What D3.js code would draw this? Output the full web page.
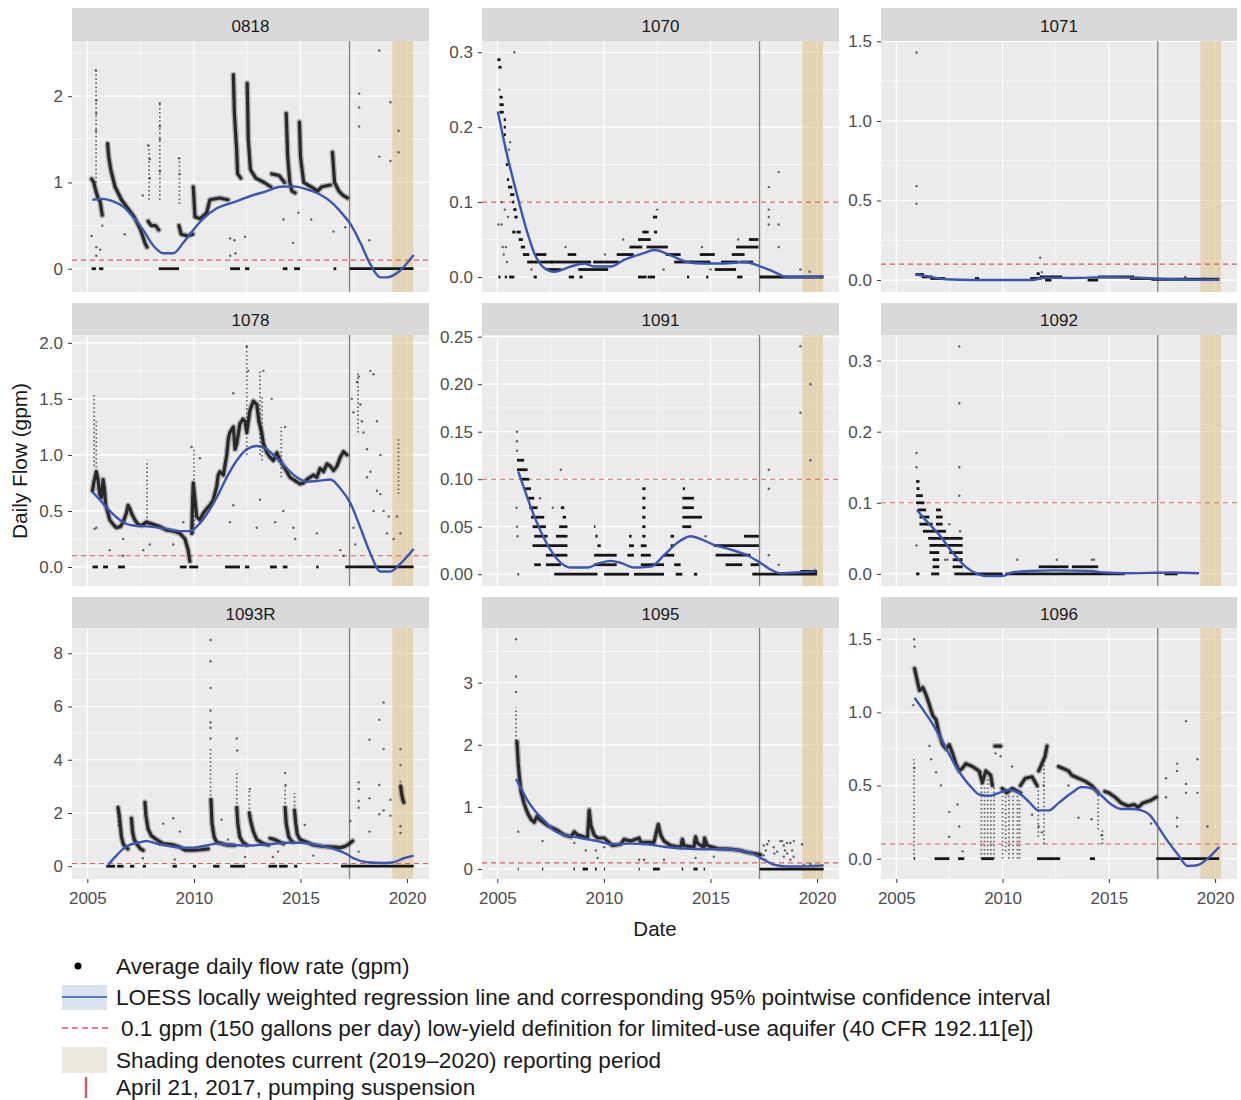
<!DOCTYPE html>
<html><head><meta charset="utf-8">
<script src="https://cdn.jsdelivr.net/npm/d3@7"></script>
<style>body{margin:0;background:#fff;} svg{display:block;font-family:"Liberation Sans",Arial,sans-serif;}</style>
</head><body><svg id="c" width="1241" height="1100"></svg>
<script>
// ---------------- DATA (decimal years, gpm) ----------------
const wells = ["0818","1070","1071","1078","1091","1092","1093R","1095","1096"];
const xTickLabels = ["2005","2010","2015","2020"];
const suspensionDate = 2017.30;       // April 21, 2017
const reportingPeriod = [2019.31, 2020.28];
const lowYield = 0.1;

// y tick labels per well
const yTicks_0818 = ["0","1","2"];
const yTicks_1070 = ["0.0","0.1","0.2","0.3"];
const yTicks_1071 = ["0.0","0.5","1.0","1.5"];
const yTicks_1078 = ["0.0","0.5","1.0","1.5","2.0"];
const yTicks_1091 = ["0.00","0.05","0.10","0.15","0.20","0.25"];
const yTicks_1092 = ["0.0","0.1","0.2","0.3"];
const yTicks_1093R = ["0","2","4","6","8"];
const yTicks_1095 = ["0","1","2","3"];
const yTicks_1096 = ["0.0","0.5","1.0","1.5"];

// y ranges per well
const yRange_0818 = [-0.27, 2.64];
const yRange_1070 = [-0.020, 0.315];
const yRange_1071 = [-0.075, 1.502];
const yRange_1078 = [-0.17, 2.07];
const yRange_1091 = [-0.0124, 0.2518];
const yRange_1092 = [-0.017, 0.336];
const yRange_1093R = [-0.48, 8.95];
const yRange_1095 = [-0.16, 3.88];
const yRange_1096 = [-0.139, 1.577];

// LOESS curves
const loess_0818 = [[2005.24,0.80],[2005.74,0.81],[2006.21,0.78],[2006.68,0.72],[2007.15,0.60],[2007.62,0.45],[2008.09,0.27],[2008.56,0.18],[2009.03,0.18],[2009.50,0.30],[2009.97,0.45],[2010.44,0.58],[2011.07,0.70],[2011.85,0.77],[2012.63,0.84],[2013.42,0.90],[2014.04,0.95],[2014.67,0.955],[2015.30,0.92],[2015.92,0.86],[2016.55,0.75],[2017.02,0.62],[2017.34,0.52],[2017.81,0.30],[2018.28,0.05],[2018.75,-0.10],[2019.06,-0.10],[2019.53,-0.05],[2020.31,0.16]];
const loess_1070 = [[2005.02,0.221],[2005.48,0.16],[2005.95,0.107],[2006.42,0.058],[2006.73,0.032],[2007.2,0.012],[2007.67,0.007],[2008.45,0.014],[2009.07,0.018],[2009.54,0.014],[2010.32,0.014],[2010.95,0.023],[2011.88,0.032],[2012.35,0.036],[2013.13,0.029],[2013.91,0.020],[2014.69,0.018],[2015.63,0.018],[2016.57,0.020],[2017.35,0.014],[2017.97,0.007],[2018.59,0.0],[2019.84,0.0],[2020.31,0.001]];
const loess_1071 = [[2005.9,0.035],[2006.4,0.025],[2007.34,0.005],[2008.58,0.0],[2011.39,0.0],[2012.01,0.015],[2013.26,0.013],[2014.81,0.018],[2016.37,0.015],[2017.93,0.005],[2020.19,0.002]];
const loess_1078 = [[2005.24,0.67],[2005.58,0.60],[2006.05,0.50],[2006.52,0.42],[2007.15,0.37],[2007.93,0.36],[2008.71,0.34],[2009.34,0.32],[2009.81,0.32],[2010.13,0.36],[2010.6,0.47],[2011.07,0.62],[2011.54,0.80],[2012.01,0.95],[2012.48,1.05],[2012.95,1.08],[2013.42,1.05],[2013.89,0.97],[2014.36,0.88],[2014.83,0.80],[2015.3,0.76],[2015.92,0.77],[2016.4,0.78],[2016.87,0.70],[2017.34,0.57],[2017.81,0.35],[2018.28,0.12],[2018.75,-0.04],[2019.22,-0.04],[2019.69,0.03],[2020.31,0.16]];
const loess_1091 = [[2005.98,0.108],[2006.26,0.09],[2006.58,0.07],[2007.04,0.045],[2007.51,0.025],[2007.98,0.012],[2008.45,0.007],[2009.23,0.007],[2009.70,0.011],[2010.32,0.014],[2010.79,0.012],[2011.41,0.007],[2012.2,0.008],[2012.82,0.020],[2013.44,0.033],[2014.07,0.040],[2014.54,0.037],[2015.16,0.031],[2015.94,0.026],[2016.72,0.020],[2017.27,0.013],[2017.81,0.005],[2018.28,0.001],[2019.22,0.002],[2019.84,0.003],[2019.92,0.005]];
const loess_1092 = [[2005.97,0.09],[2006.4,0.075],[2007.02,0.055],[2007.65,0.03],[2008.27,0.01],[2008.74,0.001],[2009.21,-0.003],[2009.98,-0.003],[2010.45,0.002],[2011.23,0.004],[2012.48,0.005],[2014.19,0.004],[2014.81,0.002],[2015.75,0.001],[2017.93,0.002],[2019.25,0.001]];
const loess_1093R = [[2005.97,0.05],[2006.36,0.4],[2006.68,0.65],[2006.99,0.8],[2007.46,0.9],[2007.77,0.95],[2008.24,0.85],[2008.71,0.78],[2009.5,0.7],[2009.97,0.7],[2010.6,0.78],[2011.07,0.85],[2011.85,0.8],[2012.63,0.78],[2013.42,0.82],[2014.36,0.88],[2014.98,0.88],[2015.77,0.8],[2016.55,0.65],[2017.18,0.45],[2017.49,0.3],[2018.12,0.15],[2018.9,0.12],[2019.37,0.15],[2019.84,0.3],[2020.31,0.4]];
const loess_1095 = [[2005.87,1.45],[2006.11,1.3],[2006.42,1.1],[2006.73,0.95],[2007.2,0.78],[2007.67,0.62],[2008.14,0.55],[2008.92,0.5],[2009.7,0.45],[2010.32,0.4],[2011.26,0.41],[2012.04,0.4],[2012.82,0.36],[2013.76,0.33],[2014.69,0.32],[2015.63,0.32],[2016.41,0.3],[2017.03,0.24],[2017.5,0.15],[2017.97,0.07],[2018.59,0.04],[2019.22,0.04],[2019.84,0.05],[2020.31,0.06]];
const loess_1096 = [[2005.86,1.1],[2006.25,1.02],[2006.71,0.92],[2007.18,0.8],[2007.65,0.67],[2008.12,0.56],[2008.58,0.48],[2008.89,0.44],[2009.36,0.43],[2009.83,0.45],[2010.3,0.47],[2010.76,0.45],[2011.23,0.39],[2011.7,0.33],[2012.17,0.33],[2012.63,0.38],[2013.26,0.45],[2013.72,0.49],[2014.19,0.48],[2014.66,0.43],[2015.12,0.37],[2015.59,0.34],[2016.06,0.34],[2016.53,0.33],[2016.92,0.3],[2017.31,0.22],[2017.77,0.12],[2018.24,0.03],[2018.71,-0.05],[2019.17,-0.045],[2019.64,0.0],[2020.19,0.08]];

// dense daily-record traces (read along the dark bands)
const trace_0818 = [
 [[2005.2,1.04],[2005.3,1.0],[2005.4,0.9],[2005.5,0.82],[2005.6,0.78],[2005.7,0.62]],
 [[2005.95,1.45],[2006.0,1.3],[2006.1,1.15],[2006.3,0.95],[2006.6,0.8],[2006.9,0.7],[2007.2,0.6],[2007.5,0.45],[2007.7,0.3],[2007.8,0.25]],
 [[2007.85,0.55],[2008.0,0.5],[2008.2,0.5],[2008.35,0.45]],
 [[2009.3,0.5],[2009.4,0.4],[2009.7,0.38],[2009.95,0.4]],
 [[2009.97,0.95],[2010.05,0.6],[2010.3,0.58],[2010.6,0.65],[2010.75,0.8],[2011.2,0.82],[2011.6,0.8]],
 [[2011.85,2.25],[2011.9,1.8],[2012.0,1.4],[2012.05,1.1],[2012.2,1.05]],
 [[2012.5,2.15],[2012.55,1.5],[2012.65,1.15],[2012.9,1.05],[2013.3,1.0],[2013.6,0.95]],
 [[2013.65,1.1],[2014.0,1.08],[2014.25,1.0]],
 [[2014.33,1.8],[2014.4,1.3],[2014.5,1.0],[2014.6,0.9],[2014.75,0.88]],
 [[2014.95,1.7],[2015.0,1.3],[2015.15,1.0],[2015.5,0.95],[2015.8,0.9],[2016.0,0.95],[2016.4,0.97]],
 [[2016.5,1.35],[2016.6,1.0],[2016.8,0.9],[2017.0,0.85],[2017.2,0.82]]
];
const trace_1070 = [];
const trace_1071 = [];
const trace_1078 = [
 [[2005.24,0.68],[2005.3,0.75],[2005.42,0.85],[2005.5,0.78],[2005.58,0.65],[2005.66,0.62],[2005.74,0.78],[2005.8,0.7],[2005.86,0.55],[2005.97,0.48],[2006.05,0.42],[2006.21,0.38],[2006.36,0.35],[2006.55,0.36],[2006.68,0.4],[2006.83,0.48],[2006.91,0.55],[2007.0,0.52],[2007.07,0.48],[2007.23,0.42],[2007.38,0.38],[2007.54,0.37],[2007.77,0.4],[2008.09,0.38],[2008.4,0.36],[2008.71,0.33],[2009.03,0.32],[2009.34,0.3],[2009.58,0.25],[2009.73,0.15],[2009.81,0.05]],
 [[2009.9,0.3],[2009.94,0.6],[2009.97,0.75],[2010.05,0.6],[2010.13,0.45],[2010.28,0.42],[2010.44,0.48],[2010.6,0.52],[2010.75,0.55],[2010.91,0.6],[2011.07,0.72],[2011.14,0.82],[2011.22,0.85],[2011.38,0.82],[2011.54,1.0],[2011.62,1.15],[2011.69,1.2],[2011.85,1.25],[2011.93,1.05],[2012.01,1.1],[2012.16,1.28],[2012.3,1.32],[2012.4,1.3],[2012.48,1.2],[2012.63,1.4],[2012.79,1.48],[2012.95,1.45],[2013.05,1.3],[2013.18,1.2],[2013.26,1.1],[2013.42,1.02],[2013.57,0.98],[2013.73,0.95],[2013.89,1.02],[2014.04,0.95],[2014.2,0.9],[2014.36,0.85],[2014.51,0.8],[2014.67,0.78],[2014.83,0.76],[2014.98,0.74],[2015.14,0.75],[2015.3,0.78],[2015.45,0.8],[2015.61,0.82],[2015.77,0.8],[2015.92,0.88],[2016.08,0.85],[2016.24,0.92],[2016.4,0.9],[2016.55,0.86],[2016.71,0.9],[2016.87,0.98],[2017.02,1.03],[2017.18,1.0]]
];
const trace_1091 = [];
const trace_1092 = [];
const trace_1093R = [
 [[2006.44,2.2],[2006.5,1.9],[2006.55,1.5],[2006.6,1.1],[2006.68,0.85],[2006.76,0.75],[2006.9,0.65]],
 [[2007.07,1.8],[2007.12,1.3],[2007.2,1.0],[2007.35,0.8],[2007.5,0.65],[2007.62,0.6]],
 [[2007.7,2.4],[2007.75,1.9],[2007.85,1.4],[2008.0,1.15],[2008.24,1.0],[2008.56,0.85],[2009.03,0.8],[2009.34,0.72],[2009.6,0.6],[2009.97,0.6],[2010.3,0.62],[2010.67,0.65]],
 [[2010.8,2.5],[2010.85,1.6],[2010.95,1.1],[2011.07,0.9],[2011.3,0.85],[2011.54,0.8],[2011.9,0.78]],
 [[2012.01,2.2],[2012.06,1.6],[2012.15,1.1],[2012.3,0.9],[2012.48,0.8]],
 [[2012.6,2.0],[2012.66,1.7],[2012.79,1.3],[2012.95,1.0],[2013.26,0.85],[2013.5,0.8]],
 [[2013.57,1.05],[2013.8,1.0],[2014.04,0.9],[2014.2,0.85]],
 [[2014.28,2.2],[2014.33,1.6],[2014.45,1.1],[2014.6,0.92],[2014.67,0.9]],
 [[2014.72,2.1],[2014.78,1.6],[2014.85,1.2],[2014.98,1.0],[2015.3,0.9],[2015.6,0.8],[2016.0,0.75],[2016.55,0.72],[2016.87,0.7],[2017.1,0.75],[2017.3,0.85],[2017.45,0.95]],
 [[2019.7,3.0],[2019.75,2.7],[2019.8,2.5],[2019.85,2.4]]
];
const trace_1095 = [
 [[2005.92,2.05],[2005.98,1.7],[2006.03,1.5],[2006.11,1.25],[2006.26,1.05],[2006.42,0.9],[2006.58,0.8],[2006.73,0.75],[2006.86,0.85],[2006.97,0.8],[2007.36,0.7],[2007.83,0.62],[2008.14,0.55],[2008.45,0.52],[2008.61,0.6],[2008.76,0.55],[2009.23,0.5],[2009.31,0.95],[2009.39,0.7],[2009.54,0.55],[2009.7,0.5],[2010.01,0.5],[2010.17,0.45],[2010.4,0.38],[2010.79,0.4],[2010.95,0.48],[2011.26,0.45],[2011.65,0.5],[2011.73,0.43],[2012.35,0.43],[2012.55,0.72],[2012.66,0.55],[2012.82,0.45],[2013.13,0.38],[2013.6,0.35],[2013.68,0.48],[2013.76,0.38],[2014.22,0.35],[2014.3,0.52],[2014.38,0.42],[2014.69,0.35],[2014.72,0.5],[2014.85,0.38],[2015.32,0.33],[2015.94,0.32],[2016.41,0.3],[2016.72,0.27],[2017.19,0.24],[2017.35,0.23]]
];
const trace_1096 = [
 [[2005.86,1.3],[2006.01,1.2],[2006.09,1.15],[2006.25,1.17],[2006.4,1.12],[2006.56,1.05],[2006.71,0.98],[2006.87,0.95],[2007.02,0.85],[2007.18,0.78],[2007.34,0.75],[2007.49,0.78],[2007.65,0.72],[2007.8,0.65],[2007.96,0.6],[2008.12,0.62],[2008.27,0.65],[2008.58,0.63],[2008.89,0.6],[2009.05,0.52],[2009.21,0.6],[2009.44,0.57],[2009.52,0.5]],
 [[2009.64,0.77],[2009.91,0.77]],
 [[2009.98,0.48],[2010.2,0.45],[2010.45,0.48],[2010.84,0.45]],
 [[2010.84,0.5],[2011.07,0.55],[2011.39,0.56],[2011.62,0.5]],
 [[2011.7,0.6],[2011.85,0.65],[2012.0,0.7],[2012.09,0.77]],
 [[2012.63,0.63],[2012.8,0.62],[2013.1,0.6],[2013.26,0.57],[2013.57,0.55],[2013.88,0.53],[2014.19,0.5],[2014.5,0.45]],
 [[2014.81,0.46],[2015.0,0.45],[2015.3,0.42],[2015.59,0.38],[2015.9,0.36],[2016.2,0.37],[2016.37,0.35],[2016.6,0.38],[2016.99,0.4],[2017.23,0.42]]
];

// runs of identical daily values: [start, end, value]
const runs_0818 = [[2005.2,2005.4,0],[2005.55,2005.75,0],[2008.35,2009.3,0],[2011.7,2012.16,0],[2012.4,2012.6,0],[2014.17,2014.39,0],[2014.7,2014.98,0],[2016.55,2016.68,0],[2017.3,2020.3,0]];
const runs_1070 = [[2005.0,2005.15,0.29],[2005.05,2005.2,0.28],[2005.1,2005.25,0.24],[2005.1,2005.3,0.23],[2005.1,2005.3,0.22],[2005.3,2005.4,0.21],[2005.3,2005.4,0.2],[2005.3,2005.4,0.19],[2005.35,2005.45,0.17],[2005.4,2005.5,0.15],[2005.45,2005.55,0.13],[2005.5,2005.7,0.12],[2005.6,2005.8,0.11],[2005.7,2005.8,0.1],[2005.75,2005.9,0.09],[2005.8,2005.95,0.08],[2005.7,2005.85,0.06],[2005.9,2006.1,0.06],[2006.0,2006.2,0.05],[2006.1,2006.3,0.04],[2006.2,2006.5,0.03],[2006.4,2007.0,0.02],[2006.8,2007.3,0.03],[2007.0,2007.6,0.02],[2007.3,2008.0,0.01],[2007.5,2008.6,0.02],[2008.3,2008.7,0.03],[2008.6,2009.4,0.02],[2008.8,2010.2,0.01],[2009.5,2010.0,0.02],[2010.0,2010.7,0.02],[2010.6,2011.4,0.03],[2011.2,2011.8,0.04],[2011.6,2012.2,0.05],[2011.8,2012.1,0.06],[2012.3,2012.5,0.08],[2012.35,2012.5,0.06],[2012.0,2013.0,0.04],[2012.9,2013.6,0.03],[2013.3,2014.2,0.02],[2014.0,2015.0,0.02],[2014.5,2015.2,0.03],[2015.2,2016.2,0.01],[2015.5,2016.3,0.02],[2016.0,2016.6,0.03],[2016.2,2017.25,0.04],[2016.8,2017.25,0.05],[2016.4,2017.0,0.02],
 [2005.05,2005.15,0],[2005.35,2005.45,0],[2005.55,2005.8,0],[2006.7,2006.85,0],[2008.35,2008.6,0],[2008.85,2009.0,0],[2011.6,2012.0,0],[2012.05,2012.4,0],[2013.9,2014.0,0],[2014.8,2014.9,0],[2016.25,2016.5,0],[2017.3,2020.3,0]];
const runs_1071 = [[2005.9,2006.3,0.035],[2006.2,2006.7,0.02],[2006.6,2007.3,0.01],[2008.7,2008.9,0.01],[2011.3,2011.8,0.01],[2011.6,2011.75,0.04],[2011.75,2012.8,0.02],[2012.0,2012.3,0.0],[2014.0,2014.5,0.0],[2014.5,2016.2,0.02],[2016.0,2017.0,0.01],[2017.0,2020.2,0.005]];
const runs_1078 = [[2005.24,2005.5,0],[2005.74,2005.97,0],[2006.44,2006.76,0],[2009.34,2009.66,0],[2009.78,2010.2,0],[2011.46,2012.16,0],[2012.4,2012.6,0],[2013.57,2013.89,0],[2014.17,2014.39,0],[2015.74,2015.85,0],[2017.1,2020.31,0]];
const runs_1091 = [[2005.92,2006.26,0.12],[2005.92,2006.42,0.11],[2006.11,2006.5,0.10],[2006.26,2006.58,0.09],[2006.42,2006.73,0.08],[2006.5,2006.89,0.07],[2007.98,2008.14,0.07],[2006.58,2007.2,0.06],[2008.06,2008.22,0.06],[2006.65,2007.28,0.05],[2007.9,2008.29,0.05],[2009.54,2009.6,0.05],[2006.73,2007.36,0.04],[2007.75,2008.29,0.04],[2009.6,2009.7,0.04],[2011.18,2011.3,0.04],[2013.13,2013.29,0.04],[2016.57,2017.27,0.04],[2006.65,2008.29,0.03],[2009.7,2009.85,0.03],[2011.18,2011.41,0.03],[2011.73,2012.0,0.03],[2013.13,2013.3,0.03],[2015.16,2017.27,0.03],[2007.28,2008.29,0.02],[2009.54,2010.6,0.02],[2011.1,2011.41,0.02],[2011.73,2012.2,0.02],[2012.82,2013.3,0.02],[2015.24,2016.88,0.02],[2006.73,2007.04,0.01],[2007.28,2007.98,0.01],[2009.54,2010.6,0.01],[2011.73,2012.82,0.01],[2013.3,2013.6,0.01],[2015.71,2016.49,0.01],[2016.88,2017.27,0.01],[2007.67,2009.7,0],[2010.01,2011.18,0],[2011.41,2012.82,0],[2013.37,2013.68,0],[2014.22,2014.38,0],[2016.96,2020.0,0],[2011.8,2011.95,0.09],[2011.8,2011.95,0.08],[2011.8,2011.95,0.07],[2011.8,2011.95,0.06],[2011.8,2011.95,0.05],[2011.8,2011.95,0.04],[2013.7,2013.8,0.09],[2013.68,2014.22,0.08],[2013.68,2014.22,0.07],[2013.68,2014.6,0.06],[2013.68,2014.1,0.05],[2019.22,2020.0,0.003]];
const runs_1092 = [[2005.93,2006.09,0.13],[2005.95,2006.09,0.12],[2005.93,2006.25,0.11],[2005.93,2006.32,0.10],[2006.0,2006.4,0.09],[2006.87,2007.1,0.09],[2006.09,2006.56,0.08],[2006.87,2007.18,0.08],[2006.09,2006.71,0.07],[2006.87,2007.18,0.07],[2006.25,2007.34,0.06],[2006.5,2007.49,0.05],[2007.49,2008.12,0.05],[2006.56,2008.12,0.04],[2006.56,2007.02,0.03],[2007.49,2008.12,0.03],[2006.71,2007.02,0.02],[2007.65,2008.12,0.02],[2006.71,2007.02,0.01],[2007.65,2008.12,0.01],[2005.93,2006.09,0],[2006.64,2007.02,0],[2007.73,2008.89,0],[2008.89,2010.0,0],[2010.14,2015.75,0],[2017.62,2018.24,0],[2011.7,2013.1,0.01],[2013.26,2014.5,0.01]];
const runs_1093R = [[2005.89,2006.3,0],[2006.4,2006.7,0],[2007.0,2007.2,0],[2007.6,2007.75,0],[2009.0,2009.2,0],[2009.95,2010.1,0],[2010.9,2011.2,0],[2011.7,2012.4,0],[2013.5,2013.9,0],[2014.0,2014.4,0],[2014.7,2014.85,0],[2016.9,2020.31,0]];
const runs_1095 = [[2005.96,2006.0,0],[2007.1,2007.15,0],[2008.58,2008.64,0],[2009.0,2009.25,0],[2009.58,2009.66,0],[2010.0,2010.05,0],[2011.63,2011.68,0],[2012.3,2012.62,0],[2013.65,2013.72,0],[2014.2,2014.4,0],[2014.68,2014.74,0],[2017.3,2020.31,0]];
const runs_1096 = [[2005.83,2005.88,0],[2006.8,2007.5,0],[2007.9,2008.2,0],[2009.0,2009.6,0],[2011.62,2012.71,0],[2014.11,2014.35,0],[2017.23,2020.19,0]];

// vertical columns of scattered daily values: [date, low, high]
const spikes_0818 = [[2005.41,1.0,2.3],[2008.4,0.8,1.92],[2007.9,0.8,1.43],[2009.32,0.75,1.28]];
const spikes_1070 = [];
const spikes_1071 = [];
const spikes_1078 = [[2005.32,0.9,1.55],[2005.42,0.85,1.3],[2007.8,0.4,0.95],[2010.0,0.3,1.07],[2012.48,1.0,1.97],[2013.1,1.0,1.75],[2013.2,0.95,1.52],[2014.1,0.8,1.25],[2017.7,1.2,1.75],[2019.6,0.65,1.15]];
const spikes_1091 = [];
const spikes_1092 = [];
const spikes_1093R = [[2010.78,2.5,4.4],[2012.01,2.2,3.6],[2012.6,2.0,2.9],[2014.28,2.2,3.0],[2014.72,2.1,2.75],[2006.45,1.5,2.3],[2019.69,3.0,3.3]];
const spikes_1095 = [[2005.88,2.0,2.6]];
const spikes_1096 = [[2005.83,0.0,0.68],[2009.0,0.0,0.6],[2009.15,0.0,0.5],[2009.3,0.0,0.55],[2009.45,0.0,0.45],[2009.6,0.0,0.5],[2010.0,0.0,0.5],[2010.15,0.05,0.48],[2010.3,0.0,0.45],[2010.5,0.0,0.45],[2010.7,0.0,0.45],[2010.8,0.0,0.4],[2011.68,0.15,0.5],[2011.95,0.1,0.7],[2014.5,0.2,0.45],[2014.7,0.1,0.2]];

// isolated daily values
const pts_0818 = [[2005.4,2.3],[2005.42,1.95],[2005.42,1.8],[2005.41,1.6],[2005.2,0.38],[2005.42,0.25],[2005.42,0.15],[2005.6,0.22],[2005.7,0.5],[2006.75,0.4],[2007.6,0.85],[2007.85,1.43],[2007.93,1.27],[2007.93,1.05],[2008.4,1.92],[2008.4,1.65],[2008.4,1.5],[2008.4,1.13],[2009.3,1.28],[2009.33,1.1],[2011.7,0.35],[2011.7,0.15],[2011.9,0.33],[2011.95,0.18],[2012.4,0.37],[2014.2,0.57],[2014.65,0.3],[2014.9,0.65],[2015.5,0.57],[2016.55,0.43],[2017.1,0.48],[2017.75,2.03],[2017.75,1.87],[2017.75,1.65],[2018.23,0.33],[2018.7,2.53],[2018.7,1.3],[2019.22,1.93],[2019.22,1.25],[2019.6,1.6],[2019.6,1.35]];
const pts_1070 = [[2005.8,0.3],[2005.1,0.25],[2005.05,0.07],[2005.2,0.07],[2005.25,0.04],[2005.3,0.03],[2005.4,0.04],[2005.45,0.02],[2005.55,0.17],[2005.6,0.18],[2005.5,0.08],[2005.35,0.09],[2005.2,0.1],[2006.6,0.01],[2008.2,0.04],[2010.05,0.03],[2010.9,0.05],[2012.5,0.09],[2012.8,0.01],[2014.6,0.04],[2015.0,0.01],[2016.3,0.05],[2017.74,0.12],[2017.74,0.09],[2017.74,0.08],[2017.74,0.07],[2018.2,0.14],[2018.2,0.07],[2018.2,0.04],[2019.22,0.01],[2019.65,0.007]];
const pts_1071 = [[2005.95,1.43],[2005.95,0.59],[2005.95,0.48],[2011.77,0.14],[2011.85,0.05],[2018.6,0.02],[2019.5,0.01]];
const pts_1078 = [[2012.48,1.97],[2012.55,1.75],[2011.85,1.55],[2013.26,1.75],[2013.65,1.5],[2014.28,1.25],[2010.28,0.97],[2009.89,1.07],[2007.93,0.2],[2007.62,0.15],[2006.68,0.25],[2006.05,0.15],[2006.68,0.1],[2009.03,0.2],[2009.5,0.4],[2011.69,0.4],[2011.85,0.55],[2012.95,0.35],[2013.1,0.6],[2013.81,0.4],[2014.2,0.5],[2014.67,0.35],[2014.75,0.25],[2015.77,0.3],[2005.42,0.35],[2005.34,0.34],[2017.41,1.5],[2017.49,1.38],[2017.65,1.65],[2017.73,1.7],[2017.81,1.45],[2017.88,1.3],[2017.96,1.2],[2018.12,1.05],[2018.28,1.75],[2018.43,1.72],[2018.59,1.3],[2018.75,1.0],[2018.12,0.8],[2018.43,0.5],[2018.75,0.65],[2019.06,0.3],[2019.14,0.45],[2017.34,0.55],[2017.49,0.35],[2017.57,0.2],[2016.87,0.15],[2017.02,0.1],[2018.28,0.85],[2018.59,0.68],[2018.9,0.5],[2019.37,0.25],[2019.53,0.45],[2019.69,0.3]];
const pts_1091 = [[2005.92,0.15],[2005.92,0.14],[2005.92,0.13],[2005.9,0.07],[2005.92,0.05],[2005.95,0.04],[2005.98,0.0],[2007.0,0.08],[2007.98,0.11],[2007.6,0.07],[2014.77,0.04],[2017.74,0.11],[2017.74,0.09],[2017.74,0.02],[2018.2,0.01],[2019.22,0.24],[2019.69,0.2],[2019.22,0.17],[2019.69,0.12]];
const pts_1092 = [[2005.95,0.17],[2005.95,0.15],[2005.95,0.04],[2007.96,0.32],[2007.96,0.24],[2007.96,0.15],[2007.96,0.11],[2008.0,0.06],[2007.5,0.07],[2010.69,0.02],[2012.55,0.02],[2014.2,0.02],[2014.3,0.02],[2007.3,0.02],[2007.4,0.02]];
const pts_1093R = [[2010.78,8.5],[2010.78,7.7],[2010.78,6.7],[2010.78,5.85],[2010.78,5.4],[2010.78,5.2],[2010.78,4.8],[2012.01,4.8],[2012.03,4.35],[2014.28,3.5],[2014.3,3.05],[2012.62,2.9],[2008.56,1.6],[2009.03,1.8],[2009.34,1.3],[2011.3,1.75],[2011.6,1.0],[2012.4,0.35],[2013.7,0.35],[2013.95,0.55],[2015.2,1.55],[2015.6,0.4],[2008.4,0.8],[2007.6,0.3],[2009.1,0.25],[2017.34,1.7],[2017.73,3.15],[2017.73,2.9],[2017.73,2.45],[2017.73,2.2],[2017.73,0.55],[2018.24,4.75],[2018.24,2.55],[2018.24,1.3],[2018.7,5.5],[2018.7,3.05],[2018.7,1.95],[2018.9,6.15],[2018.9,4.4],[2018.9,2.1],[2019.22,2.5],[2019.22,1.9],[2019.69,4.4],[2019.69,3.8],[2019.69,1.5],[2019.69,1.25]];
const pts_1095 = [[2005.88,3.7],[2005.88,3.1],[2005.88,2.85],[2005.98,0.6],[2007.12,0.45],[2008.61,0.42],[2009.15,0.3],[2009.62,0.3],[2009.7,0.18],[2010.01,0.35],[2011.65,0.15],[2011.88,0.15],[2012.82,0.15],[2014.3,0.18],[2015.16,0.2],[2017.5,0.38],[2017.66,0.4],[2017.74,0.45],[2017.97,0.35],[2018.13,0.28],[2018.28,0.45],[2018.36,0.45],[2018.44,0.38],[2018.59,0.42],[2018.75,0.42],[2018.83,0.3],[2018.91,0.45],[2019.3,0.4],[2017.5,0.22],[2017.58,0.15],[2018.44,0.2],[2018.75,0.15],[2019.37,0.07],[2019.69,0.08],[2018.28,0.05],[2017.6,0.3],[2018.0,0.25],[2018.5,0.3],[2018.6,0.25],[2018.9,0.2]];
const pts_1096 = [[2005.86,1.45],[2005.84,1.5],[2005.8,1.05],[2005.85,0.62],[2006.56,0.77],[2006.64,0.68],[2006.87,0.59],[2007.1,0.5],[2007.49,0.32],[2007.49,0.15],[2007.88,0.37],[2007.96,0.22],[2008.12,0.05],[2009.67,0.72],[2009.91,0.7],[2010.45,0.63],[2011.39,0.3],[2011.7,0.22],[2011.85,0.18],[2011.93,0.5],[2013.1,0.5],[2013.57,0.28],[2014.19,0.27],[2014.66,0.16],[2016.99,0.24],[2017.69,0.55],[2017.69,0.42],[2018.21,0.65],[2018.21,0.6],[2018.21,0.28],[2018.21,0.22],[2018.63,0.94],[2018.63,0.51],[2018.63,0.45],[2019.17,0.68],[2019.17,0.45],[2019.64,0.22]];

const legendLabels = ["Average daily flow rate (gpm)","LOESS locally weighted regression line and corresponding 95% pointwise confidence interval","0.1 gpm (150 gallons per day) low-yield definition for limited-use aquifer (40 CFR 192.11[e])","Shading denotes current (2019\u20132020) reporting period","April 21, 2017, pumping suspension"];

// ---------------- ASSEMBLY ----------------
const panels = [
 {id:"0818", yr:yRange_0818, yt:yTicks_0818, lo:loess_0818, tr:trace_0818, ru:runs_0818, sp:spikes_0818, pt:pts_0818},
 {id:"1070", yr:yRange_1070, yt:yTicks_1070, lo:loess_1070, tr:trace_1070, ru:runs_1070, sp:spikes_1070, pt:pts_1070},
 {id:"1071", yr:yRange_1071, yt:yTicks_1071, lo:loess_1071, tr:trace_1071, ru:runs_1071, sp:spikes_1071, pt:pts_1071},
 {id:"1078", yr:yRange_1078, yt:yTicks_1078, lo:loess_1078, tr:trace_1078, ru:runs_1078, sp:spikes_1078, pt:pts_1078},
 {id:"1091", yr:yRange_1091, yt:yTicks_1091, lo:loess_1091, tr:trace_1091, ru:runs_1091, sp:spikes_1091, pt:pts_1091},
 {id:"1092", yr:yRange_1092, yt:yTicks_1092, lo:loess_1092, tr:trace_1092, ru:runs_1092, sp:spikes_1092, pt:pts_1092},
 {id:"1093R", yr:yRange_1093R, yt:yTicks_1093R, lo:loess_1093R, tr:trace_1093R, ru:runs_1093R, sp:spikes_1093R, pt:pts_1093R},
 {id:"1095", yr:yRange_1095, yt:yTicks_1095, lo:loess_1095, tr:trace_1095, ru:runs_1095, sp:spikes_1095, pt:pts_1095},
 {id:"1096", yr:yRange_1096, yt:yTicks_1096, lo:loess_1096, tr:trace_1096, ru:runs_1096, sp:spikes_1096, pt:pts_1096}
];

const svg = d3.select("#c");
const colX = [72, 482, 881], colW = [357, 357, 356];
const rowY = [41, 335, 628], stripH = [33, 32, 31], plotH = 251;
const xDomain = [2004.28, 2021.03];
const xTicks = xTickLabels.map(Number);
const FONT = "Liberation Sans, Arial, sans-serif";

panels.forEach((p, i) => {
  const c = i % 3, r = Math.floor(i / 3);
  const x0 = colX[c], y0 = rowY[r], w = colW[c], h = plotH;
  const x = d3.scaleLinear().domain(xDomain).range([x0, x0 + w]);
  const y = d3.scaleLinear().domain(p.yr).range([y0 + h, y0]);
  const g = svg.append("g").attr("class", "panel");
  const clipId = "clip" + i;
  svg.append("clipPath").attr("id", clipId).append("rect").attr("x", x0).attr("y", y0).attr("width", w).attr("height", h);

  // strip
  g.append("rect").attr("x", x0).attr("y", y0 - stripH[r]).attr("width", w).attr("height", stripH[r]).attr("fill", "#d9d9d9");
  g.append("text").attr("x", x0 + w / 2).attr("y", y0 - stripH[r] / 2 + 1.5).attr("dy", "0.35em")
    .attr("text-anchor", "middle").attr("font-size", 17).attr("fill", "#1a1a1a").text(p.id);

  // background
  g.append("rect").attr("x", x0).attr("y", y0).attr("width", w).attr("height", h).attr("fill", "#ebebeb");
  const pg = g.append("g").attr("clip-path", `url(#${clipId})`);

  // grid
  const yv = p.yt.map(Number);
  const step = yv[1] - yv[0];
  const yMinor = [];
  for (let k = -1; k < yv.length; k++) { const v = yv[0] + (k + 0.5) * step; if (v > p.yr[0] && v < p.yr[1]) yMinor.push(v); }
  const xMinor = [];
  for (let k = -1; k < xTicks.length; k++) { const v = xTicks[0] + (k + 0.5) * 5; if (v > xDomain[0] && v < xDomain[1]) xMinor.push(v); }
  pg.selectAll(".ymin").data(yMinor).join("line").attr("x1", x0).attr("x2", x0 + w).attr("y1", d => y(d)).attr("y2", d => y(d)).attr("stroke", "#fff").attr("stroke-width", 0.6);
  pg.selectAll(".xmin").data(xMinor).join("line").attr("y1", y0).attr("y2", y0 + h).attr("x1", d => x(d)).attr("x2", d => x(d)).attr("stroke", "#fff").attr("stroke-width", 0.6);
  pg.selectAll(".ymaj").data(yv).join("line").attr("x1", x0).attr("x2", x0 + w).attr("y1", d => y(d)).attr("y2", d => y(d)).attr("stroke", "#fff").attr("stroke-width", 1.2);
  pg.selectAll(".xmaj").data(xTicks).join("line").attr("y1", y0).attr("y2", y0 + h).attr("x1", d => x(d)).attr("x2", d => x(d)).attr("stroke", "#fff").attr("stroke-width", 1.2);

  // reporting period shading
  pg.append("rect").attr("x", x(reportingPeriod[0])).attr("y", y0).attr("width", x(reportingPeriod[1]) - x(reportingPeriod[0])).attr("height", h)
    .attr("fill", "#dcc18a").attr("opacity", 0.55);
  // suspension line
  pg.append("line").attr("x1", x(suspensionDate)).attr("x2", x(suspensionDate)).attr("y1", y0).attr("y2", y0 + h).attr("stroke", "#8a8070").attr("stroke-width", 1.3);
  // low-yield threshold
  pg.append("line").attr("x1", x0).attr("x2", x0 + w).attr("y1", y(lowYield)).attr("y2", y(lowYield)).attr("stroke", "#d9605e").attr("stroke-width", 1.1).attr("stroke-dasharray", "5,4");

  // runs
  pg.selectAll(".run").data(p.ru).join("line").attr("x1", d => x(d[0])).attr("x2", d => x(d[1])).attr("y1", d => y(d[2])).attr("y2", d => y(d[2]))
    .attr("stroke", "#151515").attr("stroke-width", 2.8);
  // spikes (dotted columns)
  pg.selectAll(".spk").data(p.sp).join("line").attr("x1", d => x(d[0])).attr("x2", d => x(d[0])).attr("y1", d => y(d[1])).attr("y2", d => y(d[2]))
    .attr("stroke", "#333").attr("stroke-width", 1.7).attr("stroke-dasharray", "1.5,2.6").attr("opacity", 0.75);
  // traces: soft halo + core band
  const line = d3.line().x(d => x(d[0])).y(d => y(d[1]));
  pg.selectAll(".trh").data(p.tr).join("path").attr("d", line).attr("fill", "none").attr("stroke", "#2a2a2a")
    .attr("stroke-width", 6).attr("stroke-linejoin", "round").attr("stroke-linecap", "round").attr("opacity", 0.3);
  pg.selectAll(".trc").data(p.tr).join("path").attr("d", line).attr("fill", "none").attr("stroke", "#1a1a1a")
    .attr("stroke-width", 3.2).attr("stroke-linejoin", "round").attr("stroke-linecap", "round").attr("opacity", 0.9);
  // points
  pg.selectAll(".pt").data(p.pt).join("circle").attr("cx", d => x(d[0])).attr("cy", d => y(d[1])).attr("r", 1.2).attr("fill", "#333").attr("opacity", 0.75);
  // loess
  const sm = d3.line().x(d => x(d[0])).y(d => y(d[1])).curve(d3.curveMonotoneX);
  pg.append("path").attr("d", sm(p.lo)).attr("fill", "none").attr("stroke", "#3b55b3").attr("stroke-width", 2.4);

  // y axis
  const ya = d3.axisLeft(y).tickValues(yv).tickFormat((d, k) => p.yt[k]).tickSize(4).tickPadding(5);
  const yg = g.append("g").attr("transform", `translate(${x0},0)`).call(ya);
  yg.select(".domain").remove();
  yg.selectAll(".tick line").attr("stroke", "#333").attr("stroke-width", 1);
  yg.selectAll(".tick text").attr("fill", "#4d4d4d").attr("font-size", 17).attr("font-family", FONT);

  // x axis (bottom row)
  if (r === 2) {
    const xa = d3.axisBottom(x).tickValues(xTicks).tickFormat((d, k) => xTickLabels[k]).tickSize(4).tickPadding(9);
    const xg = g.append("g").attr("transform", `translate(0,${y0 + h})`).call(xa);
    xg.select(".domain").remove();
    xg.selectAll(".tick line").attr("stroke", "#333");
    xg.selectAll(".tick text").attr("fill", "#4d4d4d").attr("font-size", 17).attr("font-family", FONT);
  }
});

// axis titles
svg.append("text").attr("x", 655).attr("y", 929).attr("dy", "0.35em").attr("text-anchor", "middle").attr("font-size", 20.5).attr("fill", "#1a1a1a").text("Date");
svg.append("text").attr("transform", "translate(20,461) rotate(-90)").attr("dy", "0.35em").attr("text-anchor", "middle").attr("font-size", 20.8).attr("fill", "#1a1a1a").text("Daily Flow (gpm)");

// legend
const lg = svg.append("g");
const lgY = [966, 997, 1028, 1060, 1087];
const lgX = [116, 116, 121, 116, 116];
lg.append("circle").attr("cx", 78).attr("cy", lgY[0]).attr("r", 3.5).attr("fill", "#000");
lg.append("rect").attr("x", 62).attr("y", 985).attr("width", 45).attr("height", 25).attr("fill", "#dae3ef");
lg.append("line").attr("x1", 62).attr("x2", 107).attr("y1", lgY[1]).attr("y2", lgY[1]).attr("stroke", "#3b55b3").attr("stroke-width", 1.6);
lg.append("line").attr("x1", 62).attr("x2", 108).attr("y1", lgY[2]).attr("y2", lgY[2]).attr("stroke", "#d06060").attr("stroke-width", 1.5).attr("stroke-dasharray", "6,4");
lg.append("rect").attr("x", 62).attr("y", 1047).attr("width", 45).attr("height", 26).attr("fill", "#ece9df");
lg.append("line").attr("x1", 86).attr("x2", 86).attr("y1", 1077).attr("y2", 1098).attr("stroke", "#c9605f").attr("stroke-width", 2.5);
lg.selectAll(".lt").data(legendLabels).join("text").attr("x", (d, k) => lgX[k]).attr("y", (d, k) => lgY[k]).attr("dy", "0.35em")
  .attr("font-size", 22.6).attr("fill", "#1a1a1a").text(d => d);
</script></body></html>
